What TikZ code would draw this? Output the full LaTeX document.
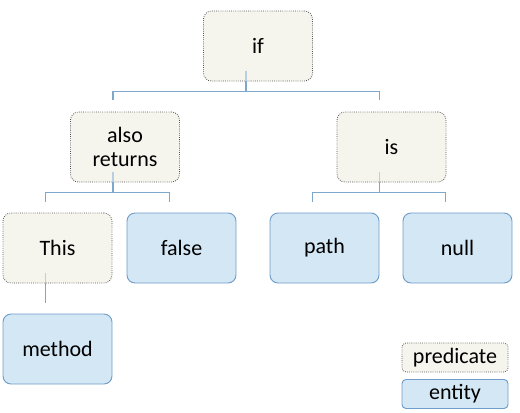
\documentclass[tikz,border=0pt]{standalone}
\usepackage{fontspec}
\setmainfont{Carlito}
\usetikzlibrary{positioning,backgrounds}
\definecolor{sand}{HTML}{F5F4ED}
\definecolor{frame}{HTML}{555555}
\definecolor{sky}{HTML}{D4E7F5}
\definecolor{steel}{HTML}{6E9DC9}
\definecolor{wire}{HTML}{7EA8CB}

\begin{document}
\begin{tikzpicture}[x=0.75pt,y=-0.75pt,font=\fontsize{16.5}{18}\selectfont,
  pred/.style={draw=frame,line width=0.6pt,dash pattern=on 0.6pt off 1pt,
               fill=sand,rounded corners=6pt,
               minimum width=81.75pt,minimum height=52.5pt,align=center,inner sep=0pt},
  ent/.style={draw=steel,line width=0.7pt,fill=sky,rounded corners=6pt,
              minimum width=81.75pt,minimum height=52.5pt,align=center,inner sep=0pt},
  key/.style={minimum width=79.5pt,minimum height=21.75pt,rounded corners=3pt},
  link/.style={draw=wire,line width=1.1pt},
  stub/.style={draw=wire!55,line width=1.1pt}]
  \useasboundingbox (0,0) rectangle (520,412);

  % tree
  \node[pred] (if)     at (258,46)    {if};
  \node[pred] (also)   at (125,147)   {also\\returns};
  \node[pred] (is)     at (391.5,147) {is};
  \node[pred] (this)   at (57.5,248)  {This};
  \node[ent]  (false)  at (181.5,248) {false};
  \node[ent]  (path)   at (324.5,248) {path};
  \node[ent]  (null)   at (457.5,248) {null};
  \node[ent]  (method) at (57.5,349)  {method};

  % legend
  \node[pred,key] (kpred) at (455,357.5) {predicate};
  \node[ent,key]  (kent)  at (455,394)   {entity};

  % connectors
  \draw[link] ([xshift=-9pt]if.south) -- ([xshift=-9pt,yshift=-7.5pt]if.south) coordinate (ifbar);
  \draw[link] ([xshift=-9pt,yshift=9pt]also.north) |- (ifbar) -| ([xshift=-9pt,yshift=9pt]is.north);

  \draw[link] ([xshift=-9pt]also.south) -- ([xshift=-9pt,yshift=-7.5pt]also.south) coordinate (alsobar);
  \draw[link] ([xshift=-9pt,yshift=8pt]this.north) |- (alsobar) -| ([xshift=-9pt,yshift=8pt]false.north);

  \draw[link] ([xshift=-9pt]is.south) -- ([xshift=-9pt,yshift=-7.5pt]is.south) coordinate (isbar);
  \draw[link] ([xshift=-9pt,yshift=8pt]path.north) |- (isbar) -| ([xshift=-9pt,yshift=8pt]null.north);

  \draw[link] ([xshift=-9pt]this.south) -- ([xshift=-9pt,yshift=8pt]method.north);

  % stubs seen through the boxes
  \foreach \n in {if,also,is,this}
    \draw[stub] ([xshift=-9pt,yshift=8pt]\n.south) -- ([xshift=-9pt,yshift=0.5pt]\n.south);
\end{tikzpicture}
\end{document}
